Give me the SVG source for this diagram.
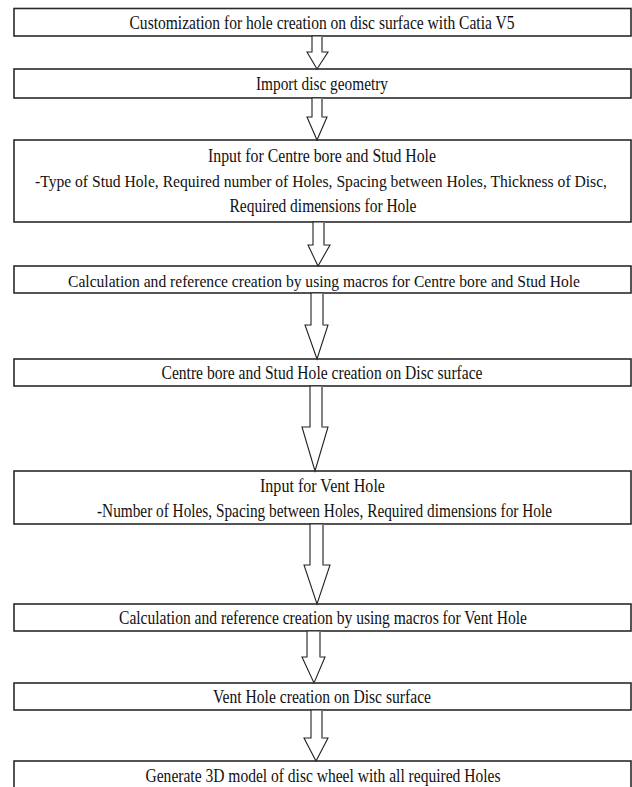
<svg xmlns="http://www.w3.org/2000/svg" width="632" height="787" viewBox="0 0 632 787">
<style>
.box{fill:#fff;stroke:#2a2a2a;stroke-width:1.6}
.t{font-family:"Liberation Serif","Times New Roman",serif;font-size:18px;fill:#111;text-anchor:middle}
.s{font-size:16px}
.ar{fill:#fff;stroke:#222;stroke-width:1.1;stroke-linejoin:miter}
.sh{stroke:#808080;stroke-width:1.6;fill:none}
</style>
<rect width="632" height="787" fill="#fff"/>
<g id="n1"><rect class="box" x="14" y="8.5" width="617" height="27.5"/>
<text class="t" x="322" y="29" textLength="385" lengthAdjust="spacingAndGlyphs">Customization for hole creation on disc surface with Catia V5</text></g>
<g id="n2"><rect class="box" x="14" y="69" width="617" height="29"/>
<text class="t" x="322" y="90" textLength="132" lengthAdjust="spacingAndGlyphs">Import disc geometry</text></g>
<g id="n3"><rect class="box" x="14" y="140" width="617" height="82"/>
<text class="t" x="322" y="162" textLength="228" lengthAdjust="spacingAndGlyphs">Input for Centre bore and Stud Hole</text>
<text class="t s" x="321" y="187" textLength="572" lengthAdjust="spacingAndGlyphs">-Type of Stud Hole, Required number of Holes, Spacing between Holes, Thickness of Disc,</text>
<text class="t" x="323" y="212" textLength="187" lengthAdjust="spacingAndGlyphs">Required dimensions for Hole</text></g>
<g id="n4"><rect class="box" x="14" y="266" width="617" height="27"/>
<text class="t s" x="324" y="287" textLength="512" lengthAdjust="spacingAndGlyphs">Calculation and reference creation by using macros for Centre bore and Stud Hole</text></g>
<g id="n5"><rect class="box" x="14" y="359" width="617" height="27"/>
<text class="t" x="322" y="379" textLength="321" lengthAdjust="spacingAndGlyphs">Centre bore and Stud Hole creation on Disc surface</text></g>
<g id="n6"><rect class="box" x="14" y="471" width="617" height="53"/>
<text class="t" x="322.5" y="492" textLength="125" lengthAdjust="spacingAndGlyphs">Input for Vent Hole</text>
<text class="t" x="324.5" y="517" textLength="455" lengthAdjust="spacingAndGlyphs">-Number of Holes, Spacing between Holes, Required dimensions for Hole</text></g>
<g id="n7"><rect class="box" x="14" y="604" width="617" height="27"/>
<text class="t" x="323" y="624" textLength="408" lengthAdjust="spacingAndGlyphs">Calculation and reference creation by using macros for Vent Hole</text></g>
<g id="n8"><rect class="box" x="14" y="683" width="617" height="27"/>
<text class="t" x="322" y="703" textLength="218" lengthAdjust="spacingAndGlyphs">Vent Hole creation on Disc surface</text></g>
<g id="n9"><rect class="box" x="14" y="761" width="617" height="40"/>
<text class="t" x="323" y="782" textLength="355" lengthAdjust="spacingAndGlyphs">Generate 3D model of disc wheel with all required Holes</text></g>
<g id="connectors">
<polygon class="ar" points="312,36 312,52 307,52 317,69 328,52 322,52 322,36"/>
<line class="sh" x1="322" y1="36" x2="322" y2="52"/>
<polygon class="ar" points="312,98 312,117 307,117 317,140 327,117 322,117 322,98"/>
<line class="sh" x1="322" y1="98" x2="322" y2="117"/>
<polygon class="ar" points="313,222 313,245 308,245 318,266 330,245 324,245 324,222"/>
<line class="sh" x1="324" y1="222" x2="324" y2="245"/>
<polygon class="ar" points="311,293 311,325 305,325 317,359 328,325 323,325 323,293"/>
<line class="sh" x1="323" y1="293" x2="323" y2="325"/>
<polygon class="ar" points="310,386 310,427 302,427 315,471 328,427 322,427 322,386"/>
<line class="sh" x1="322" y1="386" x2="322" y2="427"/>
<polygon class="ar" points="310,524 310,565 304,565 317,604 330,565 323,565 323,524"/>
<line class="sh" x1="323" y1="524" x2="323" y2="565"/>
<polygon class="ar" points="307,631 307,657 302,657 314,683 325,657 320,657 320,631"/>
<line class="sh" x1="320" y1="631" x2="320" y2="657"/>
<polygon class="ar" points="311,710 311,738 304,738 316,761 328,738 322,738 322,710"/>
<line class="sh" x1="322" y1="710" x2="322" y2="738"/>
</g>
</svg>
